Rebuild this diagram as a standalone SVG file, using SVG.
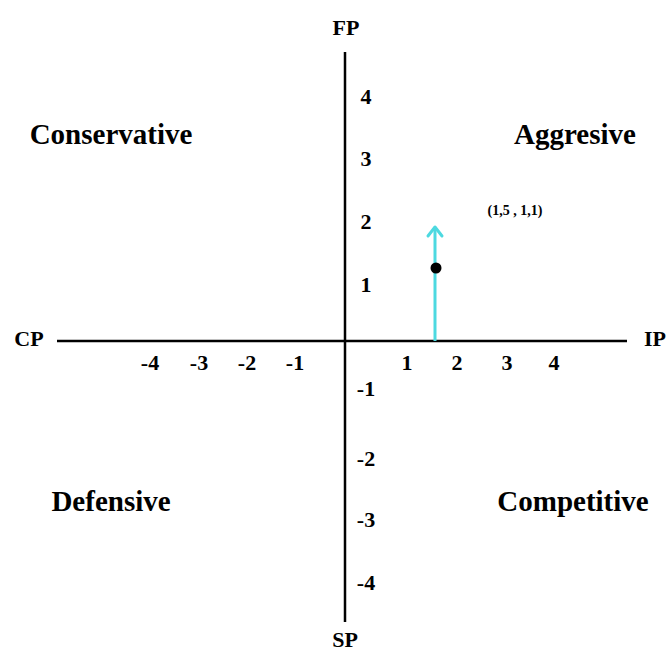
<svg xmlns="http://www.w3.org/2000/svg" width="667" height="652" viewBox="0 0 667 652">
<style>
text{font-family:"Liberation Serif","Times New Roman",serif;font-weight:bold;fill:#000}
.ax{font-size:22px}
.t{font-size:22px}
.q{font-size:29px}
.axis{stroke:#000;stroke-width:2.5;fill:none}
</style>
<rect width="667" height="652" fill="#fff"/>
<g id="connectors">
<line class="axis" x1="345" y1="52" x2="345" y2="622"/>
<line class="axis" x1="57" y1="341" x2="627" y2="341"/>
<line x1="435" y1="341" x2="435" y2="228" stroke="#4dd9e0" stroke-width="3"/>
<polyline points="428,236 435,227 442,236" fill="none" stroke="#4dd9e0" stroke-width="3" stroke-linecap="round" stroke-linejoin="round"/>
</g>
<g id="point"><circle cx="436" cy="268" r="5.5" fill="#000"/></g>
<g id="axis-labels">
<text class="ax" x="346" y="35" text-anchor="middle">FP</text>
<text class="ax" x="345" y="647" text-anchor="middle">SP</text>
<text class="ax" x="29" y="346" text-anchor="middle">CP</text>
<text class="ax" x="655" y="346" text-anchor="middle">IP</text>
</g>
<g id="ticks">
<text class="t" x="366" y="104" text-anchor="middle">4</text>
<text class="t" x="366" y="166" text-anchor="middle">3</text>
<text class="t" x="366" y="229" text-anchor="middle">2</text>
<text class="t" x="366" y="292" text-anchor="middle">1</text>
<text class="t" x="366" y="396" text-anchor="middle">-1</text>
<text class="t" x="366" y="466" text-anchor="middle">-2</text>
<text class="t" x="366" y="527" text-anchor="middle">-3</text>
<text class="t" x="366" y="590" text-anchor="middle">-4</text>
<text class="t" x="150" y="370" text-anchor="middle">-4</text>
<text class="t" x="199" y="370" text-anchor="middle">-3</text>
<text class="t" x="247" y="370" text-anchor="middle">-2</text>
<text class="t" x="295" y="370" text-anchor="middle">-1</text>
<text class="t" x="407" y="370" text-anchor="middle">1</text>
<text class="t" x="457" y="370" text-anchor="middle">2</text>
<text class="t" x="507" y="370" text-anchor="middle">3</text>
<text class="t" x="554" y="370" text-anchor="middle">4</text>
</g>
<g id="quadrants">
<text class="q" x="111" y="144" text-anchor="middle">Conservative</text>
<text class="q" x="575" y="144" text-anchor="middle">Aggresive</text>
<text class="q" x="111" y="511" text-anchor="middle">Defensive</text>
<text class="q" x="573" y="511" text-anchor="middle">Competitive</text>
</g>
<g id="coord"><text x="515" y="215" text-anchor="middle" font-size="14">(1,5 , 1,1)</text></g>
</svg>
